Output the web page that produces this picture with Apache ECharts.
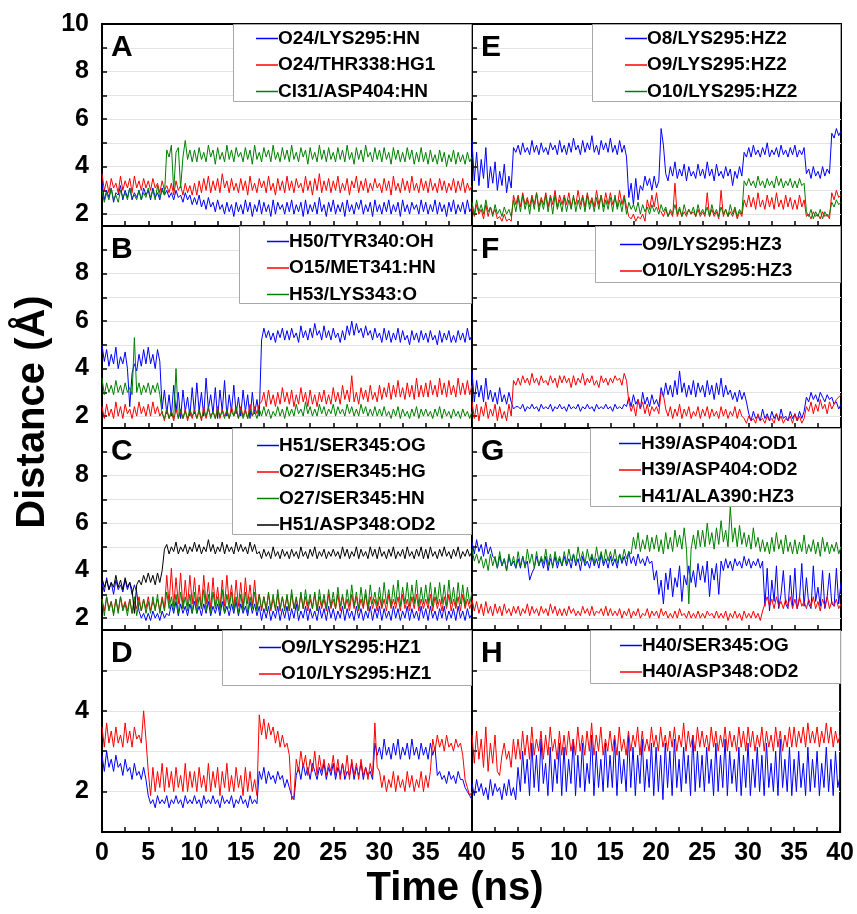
<!DOCTYPE html>
<html>
<head>
<meta charset="utf-8">
<script src="https://cdn.jsdelivr.net/npm/echarts@6/dist/echarts.min.js"></script>
<style>
  html, body { margin: 0; padding: 0; background: #fff; }
  #chart { width: 857px; height: 914px; }
</style>
</head>
<body>
<div id="chart"></div>
<script>
// Contact distances (Å) sampled every 0.25 ns over a 40 ns trajectory.
// Each row of 20 values covers 5 ns; the last value is t = 40 ns.
const TIME_STEP_NS = 0.25;
const xTickLabels = [0, 5, 10, 15, 20, 25, 30, 35, 40];

// ---- Panel A
const namesA = ['O24/LYS295:HN', 'O24/THR338:HG1', 'Cl31/ASP404:HN'];
const aBlue = [
  3.3,2.6,3.0,2.7,3.1,2.5,2.9,2.8,3.2,2.6,3.0,2.7,3.1,2.6,2.9,2.7,3.0,2.6,3.1,2.8,
  3.0,2.6,3.1,2.7,2.9,2.6,3.1,2.8,3.0,2.7,2.9,2.6,3.0,2.7,2.8,2.5,2.9,2.6,2.8,2.4,
  2.7,2.4,2.8,2.3,2.6,2.2,2.7,2.3,2.5,2.1,2.6,2.2,2.4,2.0,2.5,2.1,2.4,1.9,2.5,2.1,
  2.4,2.0,2.6,2.1,2.5,1.9,2.4,2.1,2.6,2.0,2.5,2.1,2.4,1.9,2.6,2.0,2.5,2.2,2.4,2.0,
  2.5,2.1,2.6,2.0,2.4,2.1,2.5,1.9,2.6,2.0,2.4,2.1,2.5,2.0,2.7,2.1,2.4,1.9,2.5,2.1,
  2.6,2.0,2.4,2.1,2.5,1.9,2.6,2.1,2.4,2.0,2.5,2.2,2.6,2.0,2.4,2.1,2.5,1.9,2.6,2.1,
  2.4,2.0,2.5,2.1,2.6,2.0,2.4,2.1,2.5,1.9,2.6,2.1,2.4,2.0,2.5,2.2,2.4,2.0,2.6,2.1,
  2.5,2.0,2.4,2.1,2.6,2.0,2.5,2.1,2.4,1.9,2.5,2.1,2.6,2.0,2.4,2.1,2.5,2.0,2.6,2.1,
  2.3];
const aRed = [
  3.7,3.0,3.4,2.9,3.5,3.1,3.3,2.9,3.6,3.0,3.4,3.1,3.5,2.9,3.6,3.1,3.4,3.0,3.5,3.1,
  3.4,3.0,3.5,3.1,3.3,2.9,3.4,3.0,3.2,2.9,3.3,2.8,3.4,3.0,3.2,2.8,3.3,2.9,3.2,2.8,
  3.3,2.8,3.4,2.9,3.5,3.0,3.6,2.9,3.4,3.0,3.5,2.9,3.7,3.1,3.4,2.9,3.5,3.0,3.3,2.9,
  3.5,3.0,3.4,2.8,3.6,3.0,3.3,2.9,3.5,3.1,3.4,2.9,3.6,3.0,3.3,2.8,3.5,3.0,3.4,2.9,
  3.6,3.0,3.4,2.9,3.5,3.1,3.3,2.9,3.6,3.0,3.4,2.8,3.5,3.0,3.7,2.9,3.4,3.0,3.5,2.9,
  3.4,3.0,3.6,2.9,3.3,3.0,3.5,2.8,3.4,3.1,3.6,2.9,3.4,3.0,3.5,2.9,3.3,3.0,3.5,3.1,
  3.3,2.9,3.5,3.0,3.4,2.8,3.6,3.0,3.3,2.9,3.5,3.0,3.4,2.9,3.6,3.0,3.3,2.9,3.5,3.0,
  3.4,2.9,3.5,3.0,3.3,2.9,3.5,3.0,3.4,2.9,3.3,3.0,3.5,2.9,3.4,3.0,3.5,2.9,3.3,3.0,
  3.2];
const aGreen = [
  3.0,2.5,2.9,2.6,3.1,2.6,2.8,2.5,3.0,2.7,2.9,2.6,3.1,2.7,2.8,2.6,3.0,2.6,2.9,2.7,
  3.1,2.7,3.0,2.6,3.2,2.7,3.0,2.8,4.7,4.4,4.9,3.0,4.6,4.8,3.1,4.4,5.1,4.3,4.7,4.2,
  4.7,4.2,4.8,4.3,4.6,4.2,4.9,4.4,4.7,4.1,4.8,4.3,4.6,4.2,4.9,4.3,4.7,4.2,4.8,4.4,
  4.6,4.2,4.8,4.3,4.7,4.1,4.9,4.3,4.6,4.2,4.8,4.4,4.7,4.2,4.9,4.3,4.6,4.2,4.8,4.3,
  4.7,4.2,4.9,4.3,4.6,4.2,4.8,4.4,4.7,4.1,4.8,4.3,4.6,4.2,4.9,4.3,4.7,4.2,4.8,4.3,
  4.6,4.2,4.8,4.3,4.7,4.2,4.9,4.3,4.6,4.1,4.8,4.3,4.7,4.2,4.9,4.4,4.6,4.2,4.8,4.3,
  4.7,4.2,4.8,4.3,4.6,4.1,4.8,4.3,4.7,4.2,4.6,4.2,4.8,4.3,4.7,4.1,4.6,4.2,4.8,4.2,
  4.6,4.1,4.7,4.2,4.5,4.1,4.7,4.2,4.6,4.0,4.5,4.2,4.7,4.1,4.6,4.2,4.5,4.1,4.6,4.2,
  4.4];

// ---- Panel B
const namesB = ['H50/TYR340:OH', 'O15/MET341:HN', 'H53/LYS343:O'];
const bBlue = [
  5.0,4.3,4.8,4.1,4.6,4.2,4.9,4.0,4.5,4.2,4.7,4.0,2.4,3.8,4.2,3.9,4.6,4.1,4.8,4.2,
  4.9,4.2,4.6,4.0,4.8,4.3,2.3,3.1,2.1,2.9,2.0,3.3,2.2,3.0,1.9,3.1,2.2,2.8,2.0,3.2,
  2.1,3.4,2.2,3.0,2.0,3.6,2.3,2.9,2.1,3.2,1.9,3.1,2.2,3.5,2.0,2.9,2.2,3.3,2.1,2.8,
  2.0,3.1,2.2,2.9,1.9,3.0,2.1,2.7,2.0,5.2,5.7,5.3,5.6,5.2,5.5,5.1,5.6,5.3,5.7,5.2,
  5.6,5.2,5.7,5.3,5.5,5.1,5.8,5.3,5.6,5.2,5.7,5.3,5.9,5.4,5.6,5.2,5.8,5.3,5.6,5.2,
  5.7,5.3,5.5,5.1,5.6,5.2,5.8,5.4,6.0,5.4,5.9,5.5,5.7,5.3,5.8,5.4,5.6,5.2,5.7,5.3,
  5.5,5.1,5.7,5.2,5.6,5.1,5.5,5.2,5.7,5.1,5.6,5.2,5.4,5.0,5.6,5.2,5.5,5.1,5.6,5.2,
  5.5,5.1,5.6,5.2,5.4,5.0,5.6,5.1,5.5,5.2,5.6,5.1,5.4,5.1,5.6,5.2,5.5,5.1,5.7,5.2,
  5.4];
const bRed = [
  2.4,1.9,2.5,2.0,2.3,1.9,2.6,2.0,2.4,1.9,2.5,2.1,2.3,1.9,2.4,2.0,2.6,2.1,2.4,2.0,
  2.5,2.0,2.6,2.1,2.4,2.0,2.2,1.8,2.3,1.9,2.2,1.8,2.3,1.9,2.2,1.9,2.3,1.8,2.2,1.9,
  2.3,1.9,2.2,1.8,2.4,1.9,2.3,2.0,2.2,1.9,2.4,1.9,2.3,2.0,2.2,1.9,2.4,2.0,2.3,1.9,
  2.4,2.0,2.3,1.9,2.5,2.0,2.4,2.1,2.5,2.6,3.0,2.4,3.1,2.5,2.9,2.4,3.0,2.5,3.2,2.6,
  3.0,2.5,3.1,2.4,2.9,2.5,3.2,2.6,3.0,2.4,3.1,2.5,2.9,2.4,3.0,2.6,3.1,2.5,2.9,2.5,
  3.2,2.6,3.0,2.5,3.3,2.7,3.1,2.6,3.7,2.6,3.0,2.5,3.2,2.7,3.1,2.6,3.3,2.7,3.0,2.6,
  3.3,2.7,3.2,2.8,3.4,2.7,3.3,2.8,3.5,2.8,3.2,2.7,3.4,2.8,3.3,2.7,3.6,2.8,3.3,2.8,
  3.4,2.8,3.5,2.9,3.3,2.8,3.6,2.9,3.4,2.8,3.5,2.9,3.3,2.8,3.6,2.9,3.4,2.9,3.5,2.9,
  3.3];
const bGreen = [
  3.6,2.9,3.4,3.0,3.3,2.9,3.5,3.0,3.3,2.9,3.4,3.0,3.2,2.9,5.3,3.0,3.4,2.9,3.3,3.0,
  3.4,2.9,3.3,3.0,3.4,2.9,2.1,1.9,2.3,1.9,2.2,1.9,4.0,1.9,2.3,1.9,2.2,1.9,2.3,2.0,
  2.2,1.9,2.3,1.9,2.2,2.0,2.4,1.9,2.2,1.9,2.3,2.0,2.2,1.9,2.3,1.9,2.2,2.0,2.4,1.9,
  2.3,1.9,2.2,1.9,2.3,2.0,2.2,1.9,2.3,2.0,2.4,2.0,2.3,1.9,2.2,2.0,2.4,2.0,2.3,1.9,
  2.4,2.0,2.3,2.0,2.5,2.1,2.3,2.0,2.6,2.1,2.4,2.0,2.3,2.0,2.5,2.1,2.4,2.0,2.3,2.1,
  2.5,2.0,2.4,2.1,2.3,2.0,2.5,2.1,2.4,2.0,2.3,2.0,2.5,2.1,2.4,2.0,2.3,2.0,2.4,2.0,
  2.3,2.0,2.4,2.0,2.2,1.9,2.3,2.0,2.4,1.9,2.3,2.0,2.2,1.9,2.3,2.0,2.4,1.9,2.3,2.0,
  2.3,2.0,2.2,1.9,2.3,2.0,2.4,1.9,2.3,2.0,2.2,1.9,2.3,2.0,2.2,1.9,2.3,2.0,2.2,1.9,
  2.2];

// ---- Panel C
const namesC = ['H51/SER345:OG', 'O27/SER345:HG', 'O27/SER345:HN', 'H51/ASP348:OD2'];
const cBlue = [
  3.5,3.1,3.7,3.2,3.5,3.0,3.6,3.2,3.4,3.1,3.6,3.2,3.5,3.0,3.4,3.1,2.3,2.0,2.2,1.9,
  2.2,1.9,2.3,2.0,2.2,1.9,2.3,2.0,2.2,2.1,2.6,2.2,2.7,2.1,2.6,2.2,2.5,2.1,2.6,2.2,
  2.7,2.2,2.5,2.1,2.6,2.2,2.7,2.1,2.5,2.2,2.6,2.1,2.7,2.2,2.5,2.1,2.6,2.2,2.7,2.1,
  2.6,2.2,2.5,2.1,2.7,2.2,2.6,2.1,2.5,1.9,2.4,2.0,2.5,1.9,2.3,2.0,2.5,1.9,2.4,2.0,
  2.5,1.9,2.4,2.0,2.6,1.9,2.3,2.0,2.5,1.9,2.4,2.0,2.3,1.9,2.5,2.0,2.4,1.9,2.5,2.0,
  2.4,1.9,2.3,2.0,2.5,1.9,2.4,2.0,2.3,1.9,2.5,2.0,2.4,1.9,2.3,2.0,2.5,1.9,2.4,2.0,
  2.5,1.9,2.4,2.0,2.3,1.9,2.5,2.0,2.4,1.9,2.3,2.0,2.5,1.9,2.4,2.0,2.3,1.9,2.5,2.0,
  2.4,1.9,2.5,2.0,2.3,1.9,2.4,2.0,2.5,1.9,2.3,2.0,2.4,1.9,2.5,2.0,2.3,1.9,2.4,2.0,
  2.2];
const cRed = [
  2.8,2.3,2.9,2.4,2.7,2.2,2.8,2.3,2.9,2.4,2.7,2.3,2.8,2.2,2.7,2.4,2.9,2.3,2.8,2.4,
  2.9,2.3,2.7,2.4,2.8,2.3,2.9,2.4,3.8,2.6,4.1,2.5,3.7,2.6,3.9,2.4,3.6,2.5,3.8,2.6,
  3.7,2.5,3.4,2.4,3.8,2.6,3.5,2.4,3.7,2.5,3.3,2.4,3.6,2.5,3.8,2.6,3.4,2.4,3.6,2.5,
  3.5,2.4,3.7,2.6,3.4,2.5,3.6,2.4,3.0,2.3,2.9,2.4,3.0,2.3,2.8,2.4,3.0,2.3,2.9,2.4,
  2.9,2.3,3.0,2.4,2.8,2.3,3.0,2.4,2.9,2.3,2.8,2.4,3.0,2.3,2.9,2.4,2.8,2.3,3.0,2.4,
  2.8,2.4,3.0,2.3,2.9,2.4,2.8,2.3,3.0,2.4,2.9,2.3,2.8,2.4,3.0,2.3,2.9,2.4,2.8,2.3,
  2.9,2.4,2.8,2.3,3.0,2.4,2.8,2.4,2.9,2.3,3.0,2.4,2.8,2.3,2.9,2.4,3.0,2.3,2.8,2.4,
  2.8,2.4,3.0,2.3,2.9,2.4,2.8,2.3,2.9,2.4,3.0,2.3,2.8,2.4,2.9,2.3,3.0,2.4,2.8,2.4,
  2.7];
const cGreen = [
  2.8,2.1,2.9,2.3,2.7,2.1,2.8,2.2,2.9,2.3,2.6,2.1,2.8,2.2,2.9,2.1,2.7,2.3,2.8,2.2,
  2.7,2.2,2.9,2.3,3.0,2.2,2.8,2.3,3.1,2.4,2.9,2.3,3.0,2.2,3.1,2.4,2.9,2.3,3.0,2.2,
  3.1,2.2,2.9,2.4,3.2,2.3,3.0,2.2,3.1,2.4,2.9,2.3,3.2,2.2,3.0,2.4,3.1,2.3,2.9,2.2,
  3.0,2.3,3.1,2.2,2.9,2.4,3.1,2.3,3.0,2.4,2.9,2.3,3.1,2.4,3.0,2.3,3.2,2.4,2.9,2.3,
  3.0,2.3,3.2,2.4,2.9,2.3,3.1,2.4,3.2,2.5,3.0,2.4,3.1,2.3,3.2,2.5,3.0,2.4,3.2,2.5,
  3.1,2.4,3.3,2.5,3.0,2.4,3.2,2.5,3.4,2.5,3.1,2.4,3.3,2.5,3.2,2.4,3.4,2.6,3.1,2.5,
  3.3,2.5,3.5,2.6,3.2,2.5,3.4,2.6,3.6,2.5,3.3,2.6,3.5,2.5,3.4,2.6,3.6,2.5,3.3,2.6,
  3.4,2.6,3.5,2.5,3.3,2.6,3.5,2.6,3.4,2.5,3.6,2.6,3.3,2.5,3.5,2.6,3.4,2.5,3.3,2.6,
  3.1];
const cBlack = [
  3.7,3.3,3.6,3.2,3.5,3.3,3.8,3.3,3.6,3.2,3.7,3.3,3.5,3.2,2.2,3.4,3.6,3.4,3.8,3.5,
  3.9,3.5,3.8,3.4,3.9,3.5,4.0,4.9,5.1,4.7,5.0,4.8,5.2,4.7,5.0,4.8,5.1,4.7,5.0,4.8,
  5.2,4.8,5.1,4.7,5.0,4.8,5.3,4.8,5.1,4.7,5.0,4.8,5.2,4.7,5.1,4.8,5.0,4.7,5.2,4.8,
  5.1,4.8,5.0,4.7,5.2,4.8,5.1,4.7,4.8,4.5,4.9,4.6,4.8,4.5,5.0,4.6,4.8,4.5,4.9,4.6,
  4.8,4.5,4.9,4.6,4.8,4.5,5.0,4.6,4.8,4.5,4.9,4.6,5.0,4.5,4.8,4.6,4.9,4.5,4.8,4.6,
  4.9,4.6,4.8,4.5,5.0,4.6,4.9,4.5,4.8,4.6,5.0,4.5,4.9,4.6,4.8,4.5,5.0,4.6,4.9,4.5,
  5.0,4.6,4.8,4.5,4.9,4.6,5.0,4.5,4.8,4.6,4.9,4.5,5.0,4.6,4.8,4.5,4.9,4.6,5.0,4.5,
  4.9,4.5,5.0,4.6,4.8,4.5,4.9,4.6,5.0,4.6,4.8,4.5,4.9,4.6,5.0,4.5,4.8,4.6,4.9,4.6,
  4.8];

// ---- Panel D
const namesD = ['O9/LYS295:HZ1', 'O10/LYS295:HZ1'];
const dBlue = [
  2.9,2.5,3.0,2.6,2.8,2.5,2.9,2.6,2.7,2.4,2.8,2.5,2.6,2.3,2.7,2.4,2.5,2.3,2.6,2.3,
  1.9,1.7,1.8,1.6,1.9,1.7,1.8,1.7,1.9,1.6,1.8,1.7,1.9,1.7,1.8,1.6,1.9,1.7,1.8,1.7,
  1.9,1.7,1.8,1.6,1.9,1.7,1.8,1.7,1.9,1.7,1.8,1.6,1.9,1.7,1.8,1.7,1.9,1.6,1.8,1.7,
  1.9,1.7,1.8,1.6,1.9,1.7,1.8,1.7,2.5,2.3,2.6,2.2,2.5,2.3,2.4,2.2,2.5,2.3,2.4,2.1,
  2.3,2.1,1.9,1.8,2.4,2.6,2.3,2.7,2.4,2.6,2.3,2.7,2.5,2.3,2.6,2.4,2.7,2.3,2.6,2.4,
  2.7,2.3,2.6,2.4,2.7,2.3,2.5,2.4,2.7,2.3,2.6,2.4,2.7,2.3,2.6,2.4,2.5,2.3,3.2,2.9,
  3.1,2.8,3.3,2.9,3.1,2.8,3.2,2.9,3.3,2.8,3.1,2.9,3.2,2.8,3.3,2.9,3.1,2.8,3.2,2.9,
  3.1,2.8,3.2,2.9,3.1,2.4,2.5,2.3,2.4,2.2,2.5,2.3,2.4,2.2,2.5,2.3,2.3,2.1,2.0,1.9,
  1.8];
const dRed = [
  3.6,3.1,3.7,3.2,3.5,3.1,3.6,3.2,3.4,3.1,3.7,3.2,3.5,3.1,3.6,3.3,3.4,3.2,4.0,3.3,
  2.5,1.9,2.6,2.0,2.5,2.1,2.7,2.0,2.6,2.1,2.5,2.0,2.6,2.1,2.4,2.0,2.7,2.0,2.5,2.1,
  2.5,2.0,2.6,2.1,2.4,2.0,2.7,2.0,2.5,2.1,2.6,1.9,2.5,2.1,2.7,2.0,2.4,2.0,2.6,2.1,
  2.4,1.9,2.6,2.0,2.5,2.0,2.3,1.9,3.9,3.4,3.8,3.3,3.7,3.4,3.6,3.2,3.5,3.1,3.4,3.1,
  3.2,2.9,1.8,1.9,2.8,2.5,3.0,2.6,2.9,2.4,2.8,2.5,3.0,2.4,2.9,2.5,2.8,2.4,2.7,2.5,
  2.9,2.4,2.8,2.3,2.7,2.4,2.9,2.3,2.8,2.4,2.7,2.3,2.8,2.4,2.6,2.3,2.7,2.4,3.7,2.6,
  2.5,2.1,2.4,2.0,2.3,2.1,2.5,2.0,2.4,2.1,2.3,2.0,2.5,2.1,2.4,2.0,2.3,2.1,2.5,2.0,
  2.4,2.1,2.5,3.3,3.0,3.4,3.1,3.3,3.0,3.4,3.1,3.2,3.0,3.3,3.1,3.2,2.9,2.3,2.1,1.9,
  2.0];

// ---- Panel E
const namesE = ['O8/LYS295:HZ2', 'O9/LYS295:HZ2', 'O10/LYS295:HZ2'];
const eBlue = [
  5.1,3.4,4.6,3.2,4.3,3.5,4.8,3.1,4.0,3.3,4.2,3.0,3.8,3.2,4.1,2.9,3.6,3.1,4.8,4.6,
  4.9,4.5,5.0,4.6,4.8,4.5,5.1,4.6,4.9,4.5,5.0,4.6,4.8,4.5,5.0,4.7,4.9,4.5,5.1,4.6,
  4.9,4.5,5.0,4.6,5.2,4.7,4.9,4.5,5.1,4.6,5.0,4.7,5.3,4.6,4.9,4.5,5.1,4.7,5.0,4.6,
  5.2,4.6,4.9,4.5,5.1,4.6,4.9,4.4,2.7,3.3,2.4,3.5,2.6,3.2,3.0,3.6,3.2,3.5,3.0,3.6,
  3.1,3.4,5.6,4.9,3.7,3.4,4.0,3.6,4.2,3.5,3.9,3.6,4.1,3.4,4.0,3.6,3.8,3.5,4.1,3.6,
  3.9,3.5,4.2,3.6,3.9,3.4,4.1,3.6,3.8,3.5,4.0,3.6,3.9,3.2,3.8,3.5,4.0,3.6,4.6,4.4,
  4.8,4.4,4.9,4.5,4.7,4.4,4.8,4.5,5.0,4.4,4.7,4.5,4.8,4.4,4.9,4.5,4.7,4.4,4.8,4.5,
  4.9,4.4,4.7,4.5,4.8,3.7,3.9,3.5,4.0,3.6,3.8,3.5,4.0,3.6,3.9,3.7,5.4,5.2,5.6,5.3,
  5.5];
const eRed = [
  2.3,1.9,2.4,2.0,2.2,1.8,2.4,1.9,2.3,2.0,2.2,1.8,1.9,1.7,2.0,1.7,1.8,1.7,2.8,2.4,
  2.8,2.3,2.9,2.4,2.7,2.3,2.8,2.4,2.9,2.3,2.7,2.4,2.9,2.3,2.8,2.4,3.0,2.3,2.8,2.4,
  2.8,2.4,2.9,2.3,2.7,2.4,3.0,2.4,2.8,2.3,2.9,2.4,2.7,2.3,3.0,2.4,2.8,2.3,2.9,2.4,
  2.9,2.4,2.7,2.3,3.0,2.4,2.8,2.3,1.9,1.8,2.0,1.7,1.9,1.8,2.0,1.7,2.6,2.2,2.8,2.3,
  2.9,2.2,2.1,1.9,2.2,1.9,2.1,1.9,3.3,1.9,2.2,1.9,2.1,1.9,2.2,2.0,2.1,1.9,2.2,1.9,
  2.1,1.9,2.9,1.9,2.2,1.9,2.1,1.8,3.0,1.9,2.2,1.9,2.1,1.9,2.2,1.8,2.1,1.9,2.6,2.3,
  2.8,2.3,2.7,2.2,2.9,2.3,2.6,2.2,2.8,2.3,2.7,2.2,2.9,2.3,2.6,2.2,2.8,2.3,2.7,2.2,
  2.6,2.2,2.8,2.3,2.6,1.9,2.0,1.8,2.1,1.9,2.0,1.8,2.1,1.9,2.0,1.8,2.9,2.6,3.0,2.7,
  2.8];
const eGreen = [
  2.5,2.0,2.6,2.1,2.4,2.0,2.6,2.1,2.3,1.9,2.4,2.0,2.2,1.9,2.3,2.0,2.2,1.9,2.6,2.1,
  2.7,2.1,2.8,2.2,2.6,2.0,2.7,2.2,2.9,2.1,2.6,2.2,2.8,2.1,2.7,2.0,2.8,2.2,2.6,2.1,
  2.7,2.1,2.6,2.2,2.8,2.1,2.6,2.2,2.7,2.1,2.8,2.2,2.6,2.1,2.7,2.2,2.8,2.1,2.6,2.2,
  2.7,2.1,2.8,2.2,2.6,2.1,2.7,2.0,2.5,2.2,2.4,2.1,2.5,2.0,2.4,2.1,2.3,2.0,2.4,2.1,
  2.3,2.0,2.4,2.1,2.3,1.9,2.2,2.0,2.4,2.0,2.3,1.9,2.4,2.0,2.2,2.0,2.3,1.9,2.4,2.0,
  2.2,2.0,2.3,1.9,2.4,2.0,2.2,1.9,2.3,2.0,2.2,1.9,2.4,2.0,2.3,1.9,2.2,2.0,3.4,3.2,
  3.5,3.2,3.4,3.1,3.6,3.2,3.4,3.1,3.5,3.2,3.4,3.1,3.6,3.2,3.5,3.1,3.4,3.2,3.5,3.1,
  3.4,3.1,3.5,3.2,3.3,2.1,1.9,2.2,1.8,2.1,1.9,2.2,1.8,2.1,1.9,2.0,2.5,2.3,2.6,2.4,
  2.5];

// ---- Panel F
const namesF = ['O9/LYS295:HZ3', 'O10/LYS295:HZ3'];
const fBlue = [
  3.9,2.6,3.5,2.8,3.3,2.6,3.6,2.7,3.1,2.6,3.0,2.5,3.2,2.6,2.9,2.5,3.0,2.6,2.3,2.4,
  2.4,2.3,2.5,2.2,2.4,2.3,2.5,2.3,2.4,2.2,2.5,2.3,2.4,2.3,2.5,2.2,2.4,2.3,2.5,2.3,
  2.4,2.2,2.5,2.3,2.4,2.3,2.5,2.2,2.4,2.3,2.5,2.3,2.4,2.2,2.5,2.3,2.4,2.3,2.5,2.3,
  2.4,2.2,2.5,2.3,2.4,2.3,2.5,2.4,2.8,2.4,2.9,2.5,2.7,2.3,3.0,2.5,2.8,2.4,2.9,2.5,
  2.7,2.4,3.2,2.8,3.4,2.9,3.3,2.8,3.5,2.9,3.9,3.0,3.4,2.8,3.3,2.9,3.5,2.8,3.4,3.0,
  3.3,2.8,3.5,2.9,3.3,2.7,3.4,2.9,3.6,2.8,3.3,2.9,3.1,2.7,3.0,2.6,3.1,2.7,3.0,2.6,
  2.1,1.8,2.2,1.9,2.0,1.8,2.3,1.9,2.1,1.8,2.2,1.9,2.1,1.8,2.3,1.9,2.0,1.8,2.2,1.9,
  2.1,1.8,2.2,1.9,2.2,2.8,2.6,3.0,2.7,2.9,2.6,3.0,2.8,2.6,2.9,2.7,2.8,2.5,2.6,2.3,
  2.5];
const fRed = [
  2.6,1.9,2.5,1.8,2.4,2.0,2.6,1.9,2.3,2.0,2.5,1.8,2.4,1.9,2.2,1.8,2.5,2.0,3.5,3.3,
  3.6,3.3,3.7,3.4,3.6,3.3,3.8,3.4,3.6,3.3,3.7,3.4,3.5,3.3,3.7,3.4,3.6,3.2,3.7,3.4,
  3.7,3.4,3.6,3.2,3.7,3.3,3.6,3.4,3.8,3.3,3.6,3.4,3.7,3.3,3.5,3.2,3.7,3.4,3.6,3.3,
  3.6,3.4,3.7,3.5,3.6,3.3,3.8,3.5,2.6,2.2,2.5,2.0,2.7,2.3,2.6,2.1,2.5,2.0,2.4,2.2,
  2.4,2.1,3.0,2.9,2.3,2.0,2.4,1.9,2.3,2.0,2.5,1.9,2.3,2.0,2.4,1.9,2.2,2.0,2.4,1.9,
  2.3,2.0,2.4,1.9,2.3,2.0,2.2,1.9,2.4,2.0,2.3,1.9,2.2,2.0,2.4,1.9,2.3,2.0,1.9,1.7,
  2.0,1.8,1.9,1.7,2.1,1.8,1.9,1.7,2.0,1.8,1.9,1.7,2.1,1.8,2.0,1.7,1.9,1.8,2.0,1.7,
  2.1,1.8,2.0,1.7,1.9,2.4,2.2,2.6,2.1,2.5,2.2,2.7,2.3,2.5,2.1,2.6,2.3,2.5,2.7,2.8,
  2.9];

// ---- Panel G
const namesG = ['H39/ASP404:OD1', 'H39/ASP404:OD2', 'H41/ALA390:HZ3'];
const gBlue = [
  5.2,4.7,5.3,4.8,5.1,4.6,5.2,4.7,5.0,4.6,4.5,4.1,4.6,4.2,4.5,4.0,4.6,4.2,4.4,4.1,
  4.5,4.1,4.6,4.2,4.4,3.6,3.9,4.1,4.6,4.2,4.5,4.1,4.6,4.0,4.5,4.2,4.6,4.1,4.5,4.2,
  4.6,4.2,4.5,4.1,4.7,4.2,4.5,4.0,4.6,4.2,4.4,4.1,4.6,4.2,4.5,4.1,4.7,4.2,4.5,4.1,
  4.6,4.2,4.5,4.1,4.7,4.3,4.6,4.2,4.8,4.3,4.6,4.2,4.7,4.3,4.5,4.2,4.6,4.3,4.4,3.6,
  4.0,3.0,3.6,2.6,3.9,3.2,4.1,2.9,3.7,3.3,4.2,2.7,3.8,3.4,4.2,3.5,4.0,3.3,4.3,3.6,
  4.2,3.5,4.4,2.9,4.1,3.6,4.3,3.0,4.4,4.0,4.5,4.1,4.4,4.0,4.5,4.2,4.4,4.1,4.6,4.2,
  4.5,4.1,4.4,4.2,4.5,4.1,4.4,2.5,4.1,2.3,3.6,2.7,4.2,2.4,3.0,4.0,2.6,2.4,3.8,2.5,
  4.1,2.4,2.8,4.3,2.5,3.7,2.6,2.4,4.2,2.7,3.3,2.5,4.0,2.4,2.9,3.9,2.6,2.5,4.1,2.6,
  3.5];
const gRed = [
  2.8,2.3,2.7,2.2,2.6,2.1,2.7,2.2,2.5,2.1,2.6,2.2,2.5,2.1,2.6,2.2,2.4,2.1,2.5,2.2,
  2.5,2.1,2.4,2.2,2.6,2.1,2.5,2.2,2.4,2.1,2.5,2.2,2.4,2.1,2.6,2.2,2.5,2.1,2.4,2.1,
  2.4,2.1,2.5,2.2,2.4,2.1,2.3,2.1,2.5,2.2,2.4,2.1,2.5,2.1,2.3,2.2,2.4,2.1,2.5,2.1,
  2.4,2.1,2.3,2.1,2.4,2.0,2.3,2.1,2.4,2.0,2.3,2.1,2.4,2.0,2.2,2.1,2.4,2.0,2.3,2.1,
  2.3,2.0,2.4,2.1,2.3,2.0,2.2,2.0,2.3,2.0,2.4,2.1,2.2,2.0,2.3,2.0,2.2,2.0,2.3,2.0,
  2.2,2.0,2.3,2.1,2.2,2.0,2.3,2.0,2.2,2.0,2.3,1.9,2.2,2.0,2.3,2.0,2.2,1.9,2.3,2.0,
  2.2,2.0,2.3,2.0,2.2,1.9,2.3,2.6,2.9,2.5,2.8,2.4,2.9,2.5,2.7,2.4,2.8,2.5,2.9,2.4,
  2.8,2.4,2.9,2.5,2.7,2.4,2.8,2.5,2.9,2.4,2.7,2.3,2.8,2.5,2.9,2.4,2.7,2.5,2.8,2.4,
  2.6];
const gGreen = [
  4.9,4.4,4.7,4.3,4.6,4.1,4.5,4.0,4.7,4.2,4.6,4.1,4.8,4.2,4.5,4.0,4.7,4.2,4.6,4.1,
  4.8,4.2,4.6,4.1,4.9,4.3,4.7,4.1,4.8,4.2,4.6,4.3,4.9,4.2,4.7,4.1,4.8,4.3,4.6,4.2,
  4.8,4.3,4.9,4.4,4.7,4.3,5.0,4.4,4.8,4.3,4.9,4.4,4.7,4.3,5.0,4.4,4.8,4.3,4.9,4.4,
  4.8,4.4,4.9,4.3,4.7,4.4,4.9,4.5,4.8,4.7,5.4,4.9,5.6,4.8,5.3,4.9,5.5,4.8,5.4,4.9,
  5.5,4.8,5.3,4.7,5.6,4.9,5.4,4.8,5.7,5.0,5.5,4.9,5.8,4.9,2.6,4.9,5.5,4.9,5.7,5.0,
  5.7,5.0,6.0,5.1,5.6,4.9,5.8,5.1,6.1,5.2,5.7,5.0,6.7,5.2,5.8,5.0,5.9,5.1,5.6,5.0,
  5.5,4.9,5.8,5.0,5.4,4.8,5.3,4.8,5.2,4.7,5.4,4.8,5.6,4.9,5.3,4.7,5.5,4.8,5.2,4.7,
  5.3,4.7,5.2,4.8,5.5,4.7,5.1,4.8,5.3,4.7,5.2,4.6,5.4,4.8,5.2,4.7,5.1,4.8,5.2,4.7,
  5.0];

// ---- Panel H
const namesH = ['H40/SER345:OG', 'H40/ASP348:OD2'];
const hBlue = [
  2.2,1.9,2.3,2.0,2.2,1.9,2.1,1.8,2.3,1.9,2.2,2.0,2.1,1.8,2.2,1.9,2.3,1.9,2.1,1.8,
  2.6,2.0,3.0,2.2,2.8,1.9,3.2,2.1,2.9,2.0,3.3,2.2,2.7,1.9,3.1,2.0,2.8,2.2,3.2,1.9,
  3.1,2.0,2.8,2.2,3.3,1.9,2.9,2.1,3.2,2.0,2.7,2.2,3.4,1.9,3.0,2.1,2.8,2.0,3.2,2.1,
  2.9,2.1,3.3,1.9,3.0,2.2,2.8,2.0,3.4,2.1,3.1,1.9,2.9,2.2,3.3,2.0,2.8,2.1,3.2,1.9,
  3.1,2.0,2.9,1.8,3.2,2.1,3.0,1.9,3.3,2.1,2.8,2.0,3.1,2.2,2.9,1.9,3.4,2.0,3.0,2.1,
  2.9,2.0,3.1,2.2,2.8,1.9,3.2,2.0,2.9,2.1,3.3,1.9,3.0,2.2,2.8,2.0,3.1,1.9,2.9,2.1,
  3.2,1.9,2.8,2.1,3.1,2.0,2.9,1.9,3.2,2.1,2.7,2.0,3.0,1.9,3.3,2.1,2.8,2.0,3.1,1.9,
  2.8,2.0,3.0,2.1,2.7,1.9,3.1,2.0,2.8,2.1,3.0,1.9,2.7,2.1,3.1,2.0,2.8,1.9,3.0,2.1,
  2.4];
const hRed = [
  3.4,2.7,3.5,2.8,3.3,2.6,3.6,2.5,3.2,2.7,3.4,2.5,2.4,2.9,3.2,2.8,3.0,2.6,3.3,2.8,
  3.3,2.8,3.5,2.9,3.4,2.8,3.6,2.9,3.3,3.0,3.5,2.8,3.4,2.9,3.6,3.0,3.3,2.8,3.5,2.9,
  3.4,2.9,3.5,3.0,3.3,2.9,3.6,3.0,3.4,2.9,3.5,3.0,3.7,2.9,3.4,3.0,3.6,2.9,3.3,3.0,
  3.5,3.0,3.4,2.9,3.6,3.0,3.3,2.9,3.5,3.0,3.4,3.1,3.6,2.9,3.5,3.0,3.3,3.0,3.6,3.1,
  3.4,3.0,3.6,3.1,3.4,3.0,3.5,3.1,3.6,3.0,3.4,3.1,3.7,3.0,3.5,3.1,3.4,3.0,3.6,3.1,
  3.5,3.1,3.4,3.0,3.6,3.1,3.5,3.0,3.4,3.1,3.6,3.0,3.5,3.1,3.4,3.0,3.6,3.1,3.5,3.0,
  3.6,3.1,3.5,3.0,3.4,3.1,3.6,3.0,3.5,3.1,3.4,3.0,3.6,3.1,3.5,3.0,3.4,3.1,3.6,3.1,
  3.6,3.1,3.5,3.2,3.6,3.1,3.7,3.2,3.5,3.2,3.6,3.1,3.5,3.2,3.7,3.2,3.6,3.1,3.5,3.2,
  3.4];

// ---------------------------------------------------------------------------
const FONT = '"Liberation Sans", Arial, Helvetica, sans-serif';
const BLUE = '#0000ff', RED = '#ff0000', GREEN = '#008000', BLACK = '#000000';

const COL_LEFT = [102, 472];
const COL_WIDTH = [370, 369];
const ROW_TOP = [24, 226, 428, 630];
const ROW_HEIGHT = 202;

const panels = [
  { letter: 'A', col: 0, row: 0, names: namesA, values: [aBlue, aRed, aGreen], colors: [BLUE, RED, GREEN],
    yMin: 1.5, yMax: 10, yLabels: [2, 4, 6, 8, 10], box: [233, 24, 472, 102], leg: [256, 29] },
  { letter: 'B', col: 0, row: 1, names: namesB, values: [bBlue, bRed, bGreen], colors: [BLUE, RED, GREEN],
    yMin: 1.5, yMax: 10, yLabels: [2, 4, 6, 8], box: [239, 226, 472, 304], leg: [267, 232] },
  { letter: 'C', col: 0, row: 2, names: namesC, values: [cBlue, cRed, cGreen, cBlack], colors: [BLUE, RED, GREEN, BLACK],
    yMin: 1.5, yMax: 10, yLabels: [2, 4, 6, 8], box: [232, 428, 472, 535], leg: [257, 436] },
  { letter: 'D', col: 0, row: 3, names: namesD, values: [dBlue, dRed], colors: [BLUE, RED],
    yMin: 1, yMax: 6, yLabels: [2, 4], box: [222, 630, 472, 686], leg: [259, 638] },
  { letter: 'E', col: 1, row: 0, names: namesE, values: [eBlue, eRed, eGreen], colors: [BLUE, RED, GREEN],
    yMin: 1.5, yMax: 10, yLabels: [], box: [592, 24, 841, 102], leg: [625, 29] },
  { letter: 'F', col: 1, row: 1, names: namesF, values: [fBlue, fRed], colors: [BLUE, RED],
    yMin: 1.5, yMax: 10, yLabels: [], box: [595, 226, 841, 283], leg: [620, 235] },
  { letter: 'G', col: 1, row: 2, names: namesG, values: [gBlue, gRed, gGreen], colors: [BLUE, RED, GREEN],
    yMin: 1.5, yMax: 10, yLabels: [], box: [590, 428, 841, 507], leg: [619, 434] },
  { letter: 'H', col: 1, row: 3, names: namesH, values: [hBlue, hRed], colors: [BLUE, RED],
    yMin: 1, yMax: 6, yLabels: [], box: [590, 630, 841, 684], leg: [620, 636] }
];

const grids = [], xAxes = [], yAxes = [], series = [], legends = [], graphics = [];

panels.forEach((p, idx) => {
  const bottomRow = p.row === 3;
  grids.push({
    left: COL_LEFT[p.col], top: ROW_TOP[p.row], width: COL_WIDTH[p.col], height: ROW_HEIGHT,
    show: true, borderColor: '#000', borderWidth: 2, backgroundColor: 'transparent'
  });

  xAxes.push({
    type: 'value', gridIndex: idx, min: 0, max: 40, interval: 5,
    axisLine: { onZero: false, lineStyle: { color: '#000', width: 2 } },
    axisTick: { inside: true, length: 5, lineStyle: { color: '#000', width: 1.5 } },
    minorTick: { show: true, splitNumber: 2, length: 5, lineStyle: { color: '#000', width: 1.5 } },
    splitLine: { show: false },
    axisLabel: {
      show: bottomRow, margin: 9, color: '#000', fontFamily: FONT, fontWeight: 'bold', fontSize: 25,
      formatter: v => (xTickLabels.includes(v) && !(p.col === 1 && v === 0)) ? String(v) : ''
    }
  });

  const tickValues = [];
  for (let v = Math.ceil(p.yMin); v < p.yMax; v++) tickValues.push(v);
  yAxes.push({
    type: 'value', gridIndex: idx, min: p.yMin, max: p.yMax,
    splitNumber: p.yMax - p.yMin > 6 ? 4 : 3,
    axisLine: { onZero: false, lineStyle: { color: '#000', width: 2 } },
    axisTick: { inside: true, length: 5, customValues: tickValues, lineStyle: { color: '#000', width: 1.5 } },
    splitLine: { show: true, lineStyle: { color: '#e4e4e4', width: 1 } },
    axisLabel: {
      show: p.yLabels.length > 0, margin: 13, color: '#000', fontFamily: FONT, fontWeight: 'bold', fontSize: 25,
      customValues: p.yLabels,
      formatter: v => p.yLabels.includes(v) ? String(v) : ''
    }
  });

  p.names.forEach((name, k) => {
    series.push({
      type: 'line', name, xAxisIndex: idx, yAxisIndex: idx,
      data: p.values[k].map((v, i) => [i * TIME_STEP_NS, v]),
      symbol: 'none', smooth: false, animation: false,
      lineStyle: { color: p.colors[k], width: 1 }, itemStyle: { color: p.colors[k] }, z: 2 + k
    });
  });

  legends.push({
    orient: 'vertical', left: p.leg[0], top: p.leg[1], padding: 0,
    icon: 'rect', itemWidth: 22, itemHeight: 1.5, itemGap: 7.5, selectedMode: false, z: 20,
    data: p.names,
    textStyle: { color: '#000', fontFamily: FONT, fontWeight: 'bold', fontSize: 19, padding: [0, 0, 0, -5] }
  });

  const [x0, y0, x1, y1] = p.box;
  graphics.push({
    type: 'rect', z: 10, silent: true,
    shape: { x: x0 + 0.5, y: y0 + 0.5, width: x1 - x0 - 1, height: y1 - y0 - 1 },
    style: { fill: '#fff', stroke: '#a8a8a8', lineWidth: 1 }
  });
  graphics.push({
    type: 'text', z: 12, silent: true,
    left: COL_LEFT[p.col] + 9, top: ROW_TOP[p.row] + 9,
    style: { text: p.letter, fill: '#000', font: 'bold 30px ' + FONT }
  });
});

graphics.push({
  type: 'text', z: 12, silent: true, x: 33, y: 412, rotation: Math.PI / 2,
  style: { text: 'Distance (Å)', fill: '#000', font: 'bold 40px ' + FONT, align: 'center', verticalAlign: 'middle' }
});
graphics.push({
  type: 'text', z: 12, silent: true, x: 455, y: 889,
  style: { text: 'Time (ns)', fill: '#000', font: 'bold 40px ' + FONT, align: 'center', verticalAlign: 'middle' }
});

const chart = echarts.init(document.getElementById('chart'), null, { renderer: 'canvas' });
chart.setOption({
  backgroundColor: '#fff',
  animation: false,
  grid: grids, xAxis: xAxes, yAxis: yAxes,
  legend: legends, series, graphic: graphics
});
</script>
</body>
</html>
